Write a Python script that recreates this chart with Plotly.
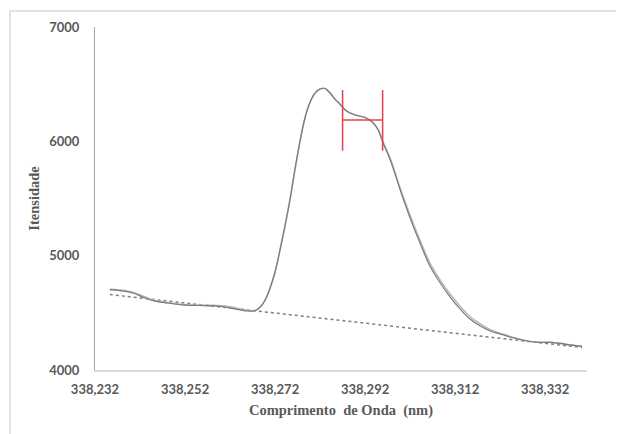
import plotly.graph_objects as go

# ---- data ----
wavelength = [338.2353, 338.2376, 338.2404, 338.2431, 338.2453, 338.2480, 338.2520, 338.2553,
              338.2587, 338.2609, 338.2631, 338.2658, 338.2676, 338.2687, 338.2698, 338.2709,
              338.2720, 338.2731, 338.2742, 338.2753, 338.2764, 338.2776, 338.2787, 338.2798,
              338.2809, 338.2820, 338.2831, 338.2842, 338.2853, 338.2864, 338.2876, 338.2887,
              338.2902, 338.2920, 338.2936, 338.2949, 338.2960, 338.2976, 338.2998, 338.3020,
              338.3042, 338.3064, 338.3087, 338.3109, 338.3131, 338.3153, 338.3176, 338.3198,
              338.3220, 338.3242, 338.3264, 338.3287, 338.3309, 338.3331, 338.3353, 338.3376,
              338.3402]
intensity_measured = [4700, 4695, 4673, 4630, 4603, 4586, 4568, 4564,
                      4560, 4551, 4534, 4516, 4520, 4551, 4612, 4717,
                      4857, 5050, 5259, 5487, 5749, 6012, 6213, 6344,
                      6423, 6458, 6462, 6423, 6370, 6326, 6274, 6248,
                      6226, 6208, 6169, 6099, 5985, 5837, 5574, 5330,
                      5111, 4910, 4761, 4638, 4534, 4446, 4385, 4341,
                      4315, 4289, 4267, 4249, 4241, 4241, 4232, 4219,
                      4206]
intensity_fit = [4705, 4700, 4680, 4640, 4608, 4590, 4570, 4566,
                 4565, 4560, 4545, 4522, 4520, 4551, 4612, 4717,
                 4857, 5050, 5259, 5487, 5749, 6012, 6213, 6344,
                 6423, 6458, 6462, 6423, 6370, 6326, 6274, 6248,
                 6226, 6208, 6169, 6105, 5995, 5850, 5590, 5352,
                 5135, 4935, 4785, 4662, 4558, 4468, 4402, 4352,
                 4322, 4293, 4269, 4250, 4242, 4243, 4233, 4220,
                 4207]
baseline_x = [338.2353, 338.3402]
baseline_y = [4660, 4197]

fwhm_left = 338.2870
fwhm_right = 338.2959
fwhm_level = 6186
fwhm_top = 6449
fwhm_bottom = 5918

x_tickvals = [338.232, 338.252, 338.272, 338.292, 338.312, 338.332]
x_ticktext = ["338,232", "338,252", "338,272", "338,292", "338,312", "338,332"]
y_tickvals = [4000, 5000, 6000, 7000]
y_ticktext = ["4000", "5000", "6000", "7000"]
x_range = [338.232, 338.3413]
y_range = [4000, 7000]

fig = go.Figure()
fig.add_trace(go.Scatter(x=baseline_x, y=baseline_y, mode="lines",
                         line=dict(color="#7f7f7f", width=1.5, dash="dot"), hoverinfo="skip"))
fig.add_trace(go.Scatter(x=wavelength, y=intensity_fit, mode="lines",
                         line=dict(color="#b8b8b8", width=1.6, shape="spline"), hoverinfo="skip"))
fig.add_trace(go.Scatter(x=wavelength, y=intensity_measured, mode="lines",
                         line=dict(color="#7a7a7a", width=1.2, shape="spline"), hoverinfo="skip"))
fig.add_trace(go.Scatter(
    x=[fwhm_left, fwhm_left, None, fwhm_right, fwhm_right, None, fwhm_left, fwhm_right],
    y=[fwhm_top, fwhm_bottom, None, fwhm_top, fwhm_bottom, None, fwhm_level, fwhm_level],
    mode="lines", line=dict(color="#e8404a", width=1.5), hoverinfo="skip"))

tick_font = dict(family="Lato", size=13, color="#595959", weight="bold")
title_font = dict(family="Liberation Serif", size=14.5, color="#595959", weight="bold")

fig.update_layout(
    width=624, height=434,
    margin=dict(l=87, r=45, t=19, b=72),
    paper_bgcolor="white", plot_bgcolor="white",
    showlegend=False,
    xaxis=dict(range=x_range, tickmode="array", tickvals=x_tickvals, ticktext=x_ticktext,
               showline=True, linecolor="#d9d9d9", linewidth=1.5, ticks="",
               showgrid=False, zeroline=False, tickfont=tick_font, ticklabelstandoff=7,
               automargin=False,
               title=dict(text="Comprimento  de Onda  (nm)", font=title_font, standoff=9)),
    yaxis=dict(range=y_range, tickmode="array", tickvals=y_tickvals, ticktext=y_ticktext,
               showline=True, linecolor="#a6a6a6", linewidth=1, ticks="",
               showgrid=False, zeroline=False, tickfont=tick_font, ticklabelstandoff=12,
               automargin=False,
               title=dict(text="Itensidade", font=title_font, standoff=6)),
    shapes=[dict(type="rect", xref="paper", yref="paper",
                 x0=-0.1728, x1=1.12, y0=-0.26, y1=1.0466,
                 line=dict(color="#d9d9d9", width=1.5), layer="below")],
)

fig.write_html("out.html")
